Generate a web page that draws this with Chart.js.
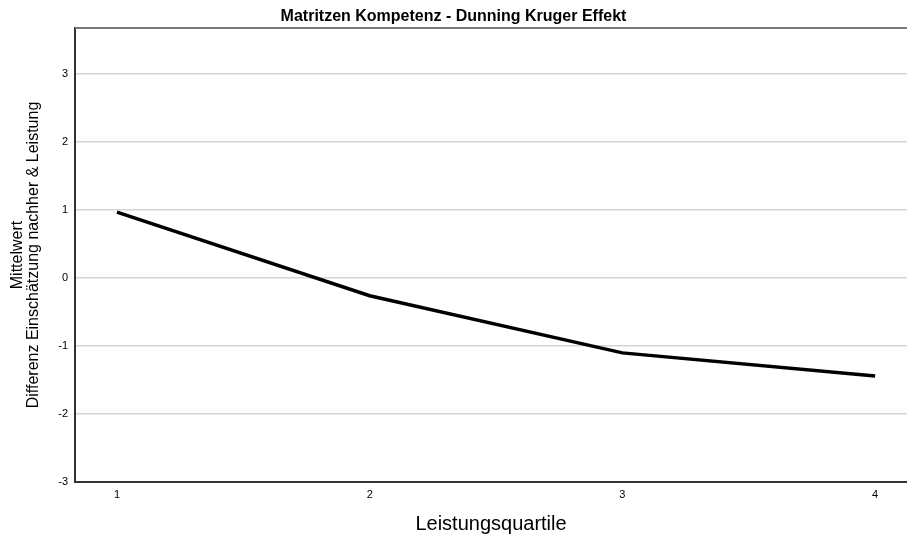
<!DOCTYPE html>
<html>
<head>
<meta charset="utf-8">
<script src="https://cdn.jsdelivr.net/npm/chart.js@4"></script>
<style>
  html, body { margin: 0; padding: 0; background: #fff; }
  #wrap { width: 907px; height: 538px; }
</style>
</head>
<body>
<div id="wrap"><canvas id="chart1"></canvas></div>
<script>
const quartiles = [1, 2, 3, 4];
const meanDiff = [0.97, -0.26, -1.10, -1.44];
const yTicks = [-3, -2, -1, 0, 1, 2, 3];

const font = 'Liberation Sans, Arial, sans-serif';

// dark frame line along the top of the plot
const topBorder = {
    id: 'topBorder',
    afterDraw(chart) {
        const { ctx, chartArea } = chart;
        ctx.save();
        ctx.strokeStyle = '#777';
        ctx.lineWidth = 2;
        ctx.beginPath();
        ctx.moveTo(chartArea.left, chartArea.top);
        ctx.lineTo(chartArea.right, chartArea.top);
        ctx.stroke();
        ctx.restore();
    }
};

const chart1 = document.getElementById('chart1');

new Chart(chart1, {
    type: 'line',
    data: {
        datasets: [{
            data: quartiles.map((q, i) => ({ x: q, y: meanDiff[i] })),
            borderColor: '#000',
            borderWidth: 3.5,
            pointRadius: 0,
            tension: 0
        }]
    },
    options: {
        responsive: true,
        maintainAspectRatio: false,
        animation: false,
        plugins: {
            legend: { display: false },
            tooltip: { enabled: false },
            title: {
                display: true,
                text: 'Matritzen Kompetenz - Dunning Kruger Effekt',
                color: '#000',
                font: { family: font, size: 16, weight: 'bold', lineHeight: 1.0 },
                padding: { top: 9, bottom: 3 }
            }
        },
        scales: {
            x: {
                type: 'linear',
                min: 0.834,
                max: 4.126,
                afterBuildTicks(scale) {
                    scale.ticks = quartiles.map(v => ({ value: v }));
                },
                afterFit(scale) { scale.height = 56; },
                grid: { display: false, drawTicks: false },
                border: { display: true, color: '#333', width: 2 },
                ticks: {
                    color: '#000',
                    padding: 6,
                    font: { family: font, size: 11 }
                },
                title: {
                    display: true,
                    text: 'Leistungsquartile',
                    color: '#000',
                    font: { family: font, size: 20, lineHeight: 1.2 },
                    padding: { top: 0, bottom: 1.5 }
                }
            },
            y: {
                min: -3,
                max: 3.68,
                afterBuildTicks(scale) {
                    scale.ticks = yTicks.map(v => ({ value: v }));
                },
                afterFit(scale) { scale.width = 75; },
                grid: { color: '#d4d4d4', lineWidth: 1.5, drawTicks: false },
                border: { display: true, color: '#333', width: 2 },
                ticks: {
                    color: '#000',
                    padding: 7,
                    font: { family: font, size: 11 }
                },
                title: {
                    display: true,
                    text: ['Mittelwert', 'Differenz Einschätzung nachher & Leistung'],
                    color: '#000',
                    font: { family: font, size: 16, lineHeight: 1.0 },
                    padding: { top: 10, bottom: 0 }
                }
            }
        }
    },
    plugins: [topBorder]
});
</script>
</body>
</html>
